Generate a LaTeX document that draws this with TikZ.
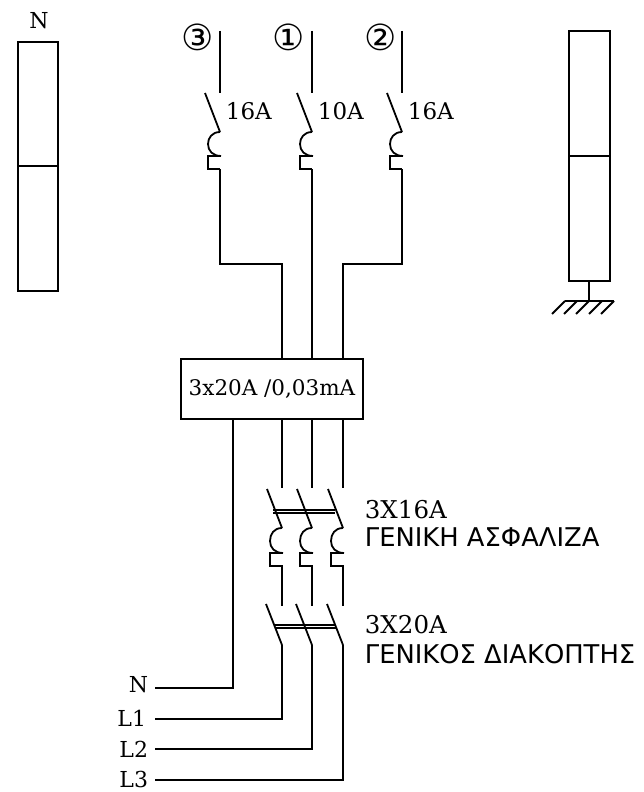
\documentclass[tikz,border=0pt]{standalone}
\usepackage{fontspec}
\setmainfont{DejaVu Serif}
\newfontfamily\grk{DejaVu Sans}
\begin{document}
\begin{tikzpicture}[x=1pt,y=-1pt,line width=1.8pt,line cap=butt,
  wire/.style={draw=black,line width=1.8pt,line join=miter},
  lbl/.style={inner sep=0pt,font=\fontsize{22}{24}\selectfont},
  lab/.style={inner sep=0pt,anchor=west,font=\fontsize{23}{25}\selectfont},
  labb/.style={inner sep=0pt,anchor=west,font=\fontsize{24.5}{26}\selectfont},
  grlab/.style={inner sep=0pt,anchor=west,font=\grk\fontsize{25.8}{28}\selectfont},
  num/.style={inner sep=0pt,font=\grk\fontsize{36}{38}\selectfont},
  panel/.style={draw=black,line width=1.8pt}]
\useasboundingbox (0,0) rectangle (643,792);
% panels
\draw[panel] (18,42) rectangle (58,291);
\draw[panel] (18,166) -- (58,166);
\node[lbl] (nt) at (39,21) {N};
\draw[panel] (569,31) rectangle (610,281);
\draw[panel] (569,156) -- (610,156);
\coordinate (gt) at (589,281);
\coordinate (gb) at (589,301);
\draw[wire] (gt) -- (gb);
\draw[wire] (565,301) -- (614,301);
\foreach \x in {565,577,589,602,614} \draw[wire] (\x,301) -- (\x-13,314);
% upper breakers
\foreach \x/\lab/\n/\nx in {220/16A/③/198,312/10A/①/289,402/16A/②/381}{
  \node[num] at (\nx,37) {\n};
  \draw[wire] (\x,31) -- (\x,93);
  \draw[wire] (\x-15,93) -- (\x,132);
  \draw[wire] (\x,132) .. controls (\x-8,132) and (\x-12,138) .. (\x-12,144) .. controls (\x-12,151) and (\x-7,156) .. (\x+1,156);
  \draw[wire] (\x+1,156) -- (\x-12,156) -- (\x-12,169) -- (\x,169);
  \node[lab] at (\x+5,111) {\lab};
}
% main box
\node[draw=black,line width=1.8pt,minimum width=182pt,minimum height=60pt,inner sep=0pt,font=\fontsize{21.5}{24}\selectfont] (rcd) at (272,389) {3x20A /0,03mA};
\draw[wire] (220,169) -- (220,264) -- (282,264) -- (282,359);
\draw[wire] (312,169) -- (312,359);
\draw[wire] (402,169) -- (402,264) -- (343,264) -- (343,359);
% lower breakers
\foreach \x in {282,312,343}{
  \draw[wire] (\x,419) -- (\x,488);
  \draw[wire] (\x-15,489) -- (\x,528);
  \draw[wire] (\x,528) .. controls (\x-8,528) and (\x-12,534) .. (\x-12,541) .. controls (\x-12,548) and (\x-7,553) .. (\x+1,553);
  \draw[wire] (\x+1,553) -- (\x-12,553) -- (\x-12,566) -- (\x,566) -- (\x,606);
  \draw[wire] (\x-16,604) -- (\x,645);
}
\draw[wire] (273,510) -- (335,510);
\draw[wire] (273,513) -- (335,513);
\draw[wire] (275,625) -- (336,625);
\draw[wire] (275,628) -- (336,628);
\node[labb] (n1) at (364,510) {3X16A};
\node[grlab] (g1) at (364,537) {ΓΕΝΙΚΗ ΑΣΦΑΛΙΖΑ};
\node[labb] (n2) at (364,625) {3X20A};
\node[grlab] (g2) at (364,654) {ΓΕΝΙΚΟΣ ΔΙΑΚΟΠΤΗΣ};
% feeds
\node[lbl,anchor=east] (N) at (149,685) {N};
\node[lbl,anchor=east] (L1) at (147,718) {L1};
\node[lbl,anchor=east] (L2) at (149,749) {L2};
\node[lbl,anchor=east] (L3) at (149,779) {L3};
\coordinate (cn) at (155,688);
\coordinate (c1) at (155,719);
\coordinate (c2) at (155,749);
\coordinate (c3) at (155,780);
\draw[wire] (cn) -- (233,688) -- (233,419);
\draw[wire] (c1) -- (282,719) -- (282,645);
\draw[wire] (c2) -- (312,749) -- (312,645);
\draw[wire] (c3) -- (343,780) -- (343,645);
\end{tikzpicture}
\end{document}
